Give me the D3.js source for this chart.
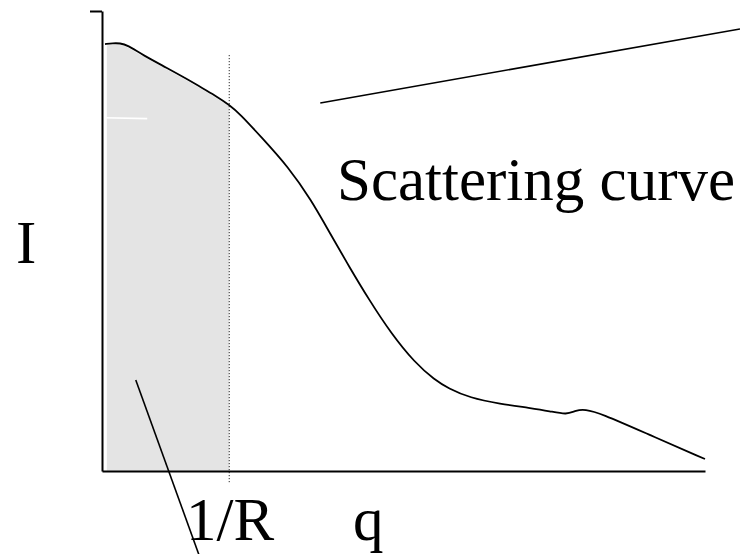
<!DOCTYPE html>
<html>
<head>
<meta charset="utf-8">
<script src="https://cdn.jsdelivr.net/npm/d3@7"></script>
<style>
  html, body { margin: 0; padding: 0; background: #fff; }
  svg { display: block; }
  text { font-family: "Liberation Serif", "Times New Roman", serif; fill: #000; }
</style>
</head>
<body>
<svg id="chart" width="740" height="554"></svg>
<script>
// Scattering curve I(q), arbitrary units
const qValues = [0.5, 1.8, 3.0, 4.2, 6.8, 10.8, 14.1, 16.3, 18.7, 21.1, 22.9, 26.4, 30.9, 34.7, 37.8, 41.0, 44.3, 47.9, 51.9, 55.2, 57.4, 61.0, 66.0, 71.0, 74.3, 77.1, 78.6, 80.1, 82.6, 90.9, 100];
const intensityValues = [92.8, 93.0, 93.0, 92.6, 90.4, 87.6, 85.2, 83.5, 81.7, 79.6, 77.6, 72.6, 66.1, 58.9, 51.7, 44.4, 37.2, 30.0, 23.5, 19.8, 18.0, 15.9, 14.6, 13.7, 13.0, 12.2, 13.2, 13.4, 12.6, 7.8, 2.6];

// cutoff at q = 1/R
const cutoffQ = 21.1;
const cutoffLabel = "1/R";

// axis labels and annotation
const xLabel = "q";
const yLabel = "I";
const curveLabel = "Scattering curve";
const yTickValues = [100];
// annotation leader lines, [q, I] endpoints
const curveLeader = [[36.2, 80.0], [105.8, 96.1]];
const cutoffLeader = [[5.6, 19.8], [16.1, -18.3]];

const svg = d3.select("#chart");

const x = d3.scaleLinear().domain([0, 100]).range([102, 705]);
const y = d3.scaleLinear().domain([0, 100]).range([471, 11]);

const pts = qValues.map((q, i) => [q, intensityValues[i]]);
const smooth = d3.curveBasis;

// shaded region under the curve below 1/R
const shaded = pts.filter(d => d[0] <= cutoffQ);
const area = d3.area()
  .x(d => x(d[0]))
  .y0(y(0))
  .y1(d => y(d[1]) + 1.5)
  .curve(smooth);
svg.append("path")
  .datum(shaded)
  .attr("d", area)
  .attr("fill", "#e4e4e4");

// cover the strip next to the y axis and a faint streak in the shading
svg.append("rect")
  .attr("x", x(0)).attr("y", y(95))
  .attr("width", x(0.8) - x(0)).attr("height", y(0) - y(95))
  .attr("fill", "#fff");
svg.append("line")
  .attr("x1", x(0.4)).attr("x2", x(7.5))
  .attr("y1", y(76.8)).attr("y2", y(76.6))
  .attr("stroke", "#fff").attr("stroke-width", 1.6);

// dotted cutoff line
svg.append("line")
  .attr("x1", x(cutoffQ)).attr("x2", x(cutoffQ))
  .attr("y1", y(90.4)).attr("y2", y(-2.8))
  .attr("stroke", "#000").attr("stroke-width", 1)
  .attr("stroke-dasharray", "1,2");

// axes
const yAxis = d3.axisLeft(y).tickValues(yTickValues).tickSize(12).tickSizeOuter(0).tickFormat("");
svg.append("g")
  .attr("transform", `translate(${x(0)},0)`)
  .call(yAxis)
  .call(g => g.selectAll("path, line").attr("stroke", "#000").attr("stroke-width", 2));

const xAxis = d3.axisBottom(x).tickValues([]).tickSizeOuter(0);
svg.append("g")
  .attr("transform", `translate(0,${y(0)})`)
  .call(xAxis)
  .call(g => g.selectAll("path").attr("stroke", "#000").attr("stroke-width", 2));

// the curve
const line = d3.line()
  .x(d => x(d[0]))
  .y(d => y(d[1]))
  .curve(smooth);
svg.append("path")
  .datum(pts)
  .attr("d", line)
  .attr("fill", "none")
  .attr("stroke", "#000")
  .attr("stroke-width", 1.8);

// leader lines
[curveLeader, cutoffLeader].forEach(seg => {
  svg.append("line")
    .attr("x1", x(seg[0][0])).attr("y1", y(seg[0][1]))
    .attr("x2", x(seg[1][0])).attr("y2", y(seg[1][1]))
    .attr("stroke", "#000").attr("stroke-width", 1.6);
});

// labels
const fs = 61;
svg.append("text").attr("x", 337).attr("y", 200).attr("font-size", fs).text(curveLabel);
svg.append("text").attr("x", 16).attr("y", 263).attr("font-size", fs).text(yLabel);
svg.append("text").attr("x", 186).attr("y", 540).attr("font-size", fs).text(cutoffLabel);
svg.append("text").attr("x", 353).attr("y", 540).attr("font-size", fs).text(xLabel);
</script>
</body>
</html>
